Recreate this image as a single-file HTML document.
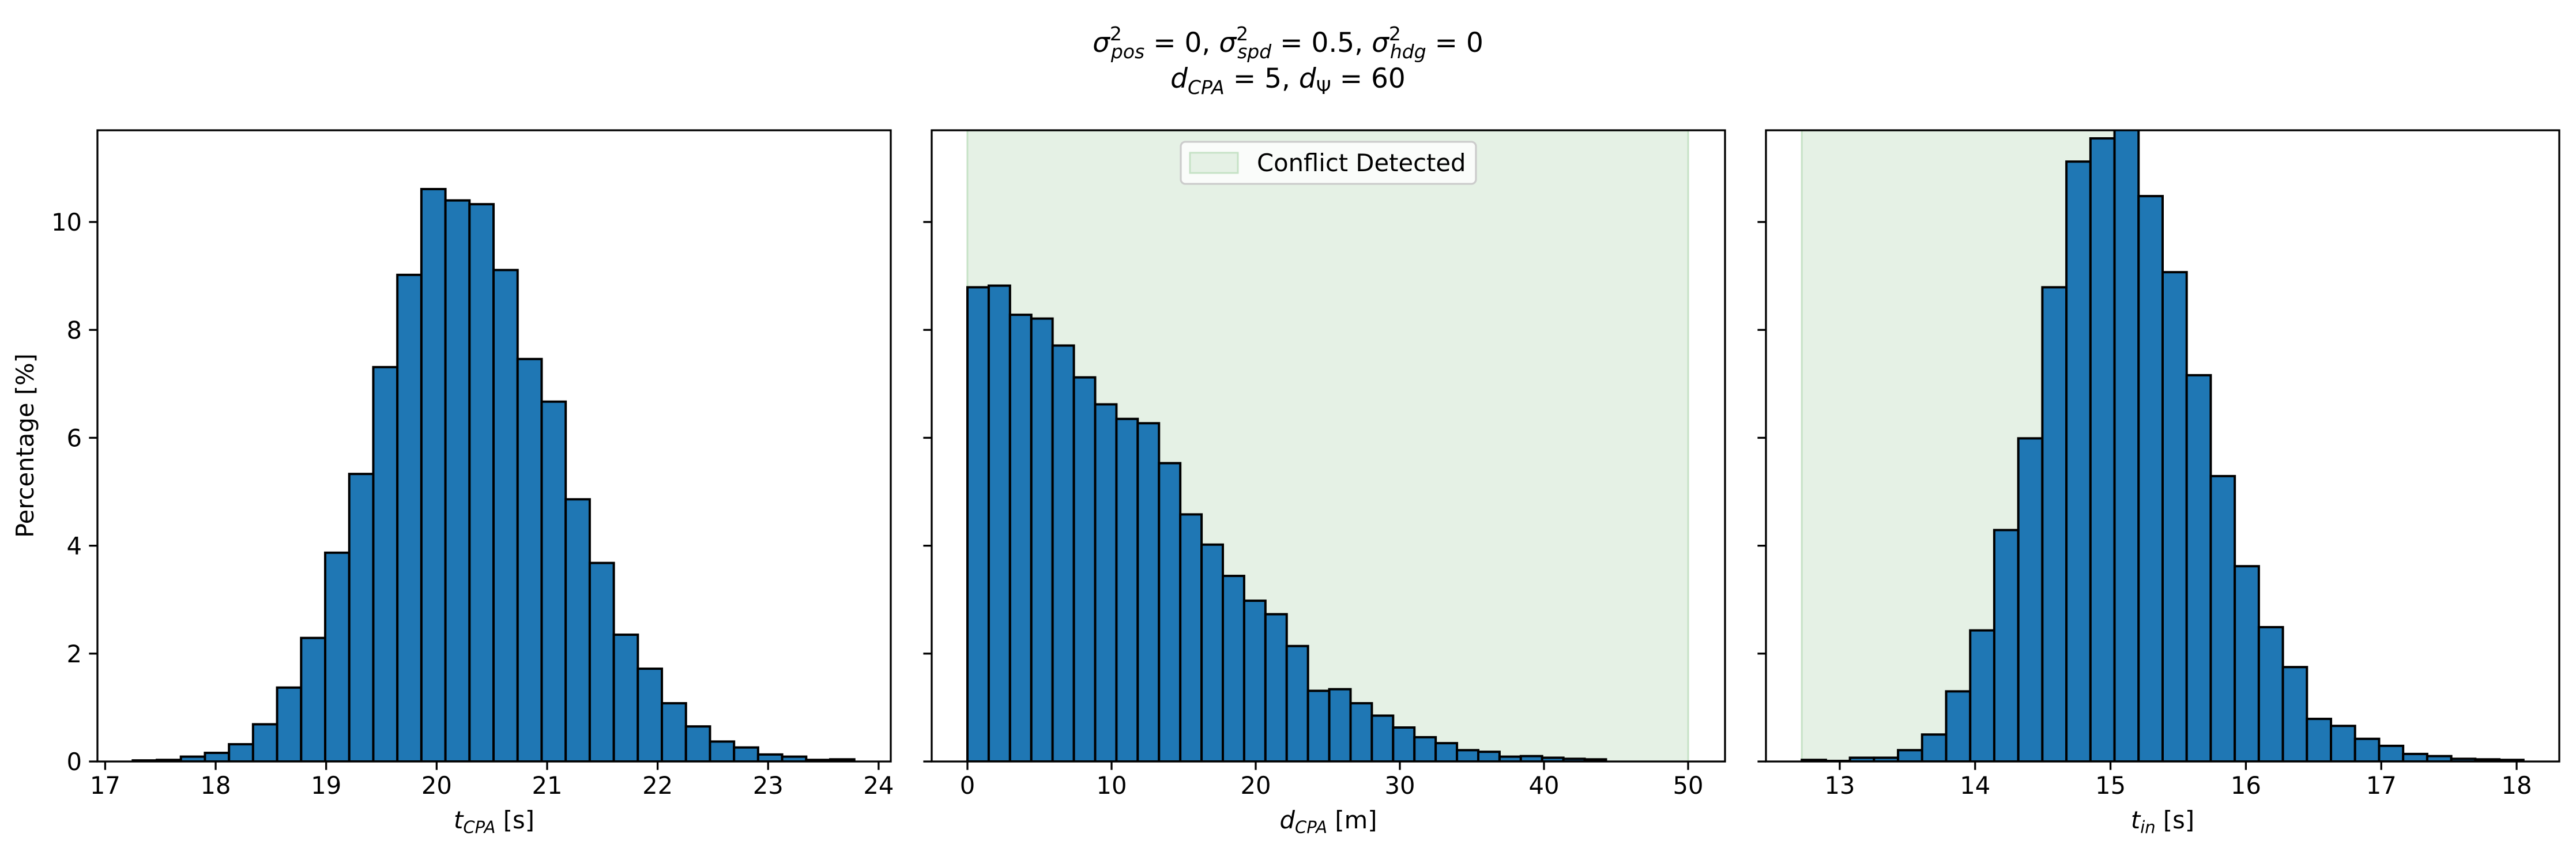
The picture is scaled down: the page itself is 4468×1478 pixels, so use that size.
<!DOCTYPE html>
<html><head><meta charset="utf-8"><style>
html,body{margin:0;padding:0;background:#fff}
svg{display:block;font-family:"DejaVu Sans","Liberation Sans",sans-serif}
</style></head><body>
<svg id="chart" width="4468" height="1478" viewBox="0 0 4468 1478" xmlns="http://www.w3.org/2000/svg">
<rect width="4468" height="1478" fill="#fff"/>
<text x="2234" y="90" text-anchor="middle" font-size="47"><tspan font-style="italic">σ</tspan><tspan font-size="33" dy="-20">2</tspan><tspan font-size="33" font-style="italic" dx="-19" dy="31">pos</tspan><tspan dy="-11"> = 0, </tspan><tspan font-style="italic">σ</tspan><tspan font-size="33" dy="-20">2</tspan><tspan font-size="33" font-style="italic" dx="-19" dy="31">spd</tspan><tspan dy="-11"> = 0.5, </tspan><tspan font-style="italic">σ</tspan><tspan font-size="33" dy="-20">2</tspan><tspan font-size="33" font-style="italic" dx="-19" dy="31">hdg</tspan><tspan dy="-11"> = 0</tspan></text>
<text x="2234" y="152" text-anchor="middle" font-size="47"><tspan font-style="italic">d</tspan><tspan font-size="33" font-style="italic" dy="11">CPA</tspan><tspan dy="-11"> = 5, </tspan><tspan font-style="italic">d</tspan><tspan font-size="33" dy="11">Ψ</tspan><tspan dy="-11"> = 60</tspan></text>
<g id="plots"></g>
</svg>
<script>
const tcpaValues=[0.02,0.03,0.09,0.16,0.32,0.69,1.37,2.29,3.87,5.33,7.31,9.02,10.61,10.40,10.33,9.11,7.46,6.67,4.86,3.68,2.35,1.72,1.08,0.65,0.37,0.26,0.13,0.09,0.03,0.04];
const tcpaRange=[17.25,23.78];
const dcpaValues=[8.79,8.82,8.28,8.21,7.71,7.12,6.62,6.35,6.27,5.53,4.58,4.02,3.44,2.98,2.73,2.14,1.31,1.34,1.08,0.85,0.63,0.45,0.34,0.21,0.18,0.09,0.10,0.07,0.05,0.04];
const dcpaRange=[0,44.3];
const tinValues=[0.03,0.01,0.07,0.07,0.21,0.50,1.30,2.43,4.29,5.99,8.79,11.12,11.55,11.75,10.48,9.07,7.16,5.29,3.62,2.49,1.75,0.79,0.66,0.42,0.29,0.14,0.10,0.05,0.04,0.03];
const tinRange=[12.72,18.05];
const tcpaTicks=[17,18,19,20,21,22,23,24];
const dcpaTicks=[0,10,20,30,40,50];
const tinTicks=[13,14,15,16,17,18];
const yTicks=[0,2,4,6,8,10];
const dcpaConflict=[0,50];
const tinConflict=[12.72,15.03];

const NS="http://www.w3.org/2000/svg";
const root=document.getElementById('plots');
const TOP=226,BOT=1321,YMAX=11.7;
function el(tag,attrs,parent){const e=document.createElementNS(NS,tag);for(const k in attrs)e.setAttribute(k,attrs[k]);(parent||root).appendChild(e);return e;}
function yS(v){return BOT-(BOT-TOP)*v/YMAX;}

function panel(id,L,R,xmin,xmax,vals,range,ticks,showY,span,label){
  const g=el('g',{});
  
  
  const xS=v=>L+(R-L)*(v-xmin)/(xmax-xmin);
  const clip=el('clipPath',{id:'clip-'+id},g);
  el('rect',{x:L,y:TOP,width:R-L,height:BOT-TOP},clip);
  const inner=el('g',{'clip-path':'url(#clip-'+id+')'},g);
  if(span){
    const s=el('rect',{x:xS(span[0]),y:TOP,width:xS(span[1])-xS(span[0]),height:BOT-TOP,fill:'#e5f1e5',stroke:'#c6e2c6','stroke-width':3},inner);
    
    
  }
  const n=vals.length,w=(range[1]-range[0])/n;
  vals.forEach((v,i)=>{
    const x0=xS(range[0]+i*w),x1=xS(range[0]+(i+1)*w);
    const b=el('rect',{x:x0,y:yS(v),width:x1-x0,height:BOT-yS(v),fill:'#1f77b4',stroke:'#000','stroke-width':4},inner);
    
    
  });
  const f=el('rect',{x:L,y:TOP,width:R-L,height:BOT-TOP,fill:'none',stroke:'#000','stroke-width':3.3},g);
  
  
  ticks.forEach(t=>{
    const x=xS(t);
    el('line',{x1:x,x2:x,y1:BOT,y2:BOT+14.6,stroke:'#000','stroke-width':3.3},g);
    const tl=el('text',{x:x,y:BOT+56,'text-anchor':'middle','font-size':41.7},g);
    tl.textContent=t;
    
    
  });
  yTicks.forEach(t=>{
    const y=yS(t);
    el('line',{x1:L,x2:L-14.6,y1:y,y2:y,stroke:'#000','stroke-width':3.3},g);
    if(showY){
      const tl=el('text',{x:L-27,y:y+15,'text-anchor':'end','font-size':41.7},g);
      tl.textContent=t;
      
      
    }
  });
  const xl=el('text',{x:(L+R)/2,y:1437,'text-anchor':'middle','font-size':41.7},g);
  
  
  xl.innerHTML='<tspan font-style="italic">'+label[0]+'</tspan><tspan font-style="italic" font-size="29" dy="8">'+label[1]+'</tspan><tspan dy="-8"> '+label[2]+'</tspan>';
  return g;
}
panel('tcpa',169,1545,16.93,24.11,tcpaValues,tcpaRange,tcpaTicks,true,null,['t','CPA','[s]']);
panel('dcpa',1616,2992,-2.48,52.56,dcpaValues,dcpaRange,dcpaTicks,false,dcpaConflict,['d','CPA','[m]']);
panel('tin',3063,4439,12.455,18.315,tinValues,tinRange,tinTicks,false,tinConflict,['t','in','[s]']);

const yl=el('text',{x:0,y:0,'text-anchor':'middle','font-size':41.7,transform:'translate(58,773) rotate(-90)'});
yl.textContent='Percentage [%]';



const lg=el('g',{});


el('rect',{x:2048,y:246,width:512,height:73,rx:8,fill:'#fff','fill-opacity':0.8,stroke:'#cccccc','stroke-width':3.3},lg);
el('rect',{x:2064,y:265,width:83,height:35,fill:'#e5f1e5',stroke:'#c6e2c6','stroke-width':3},lg);
const lt=el('text',{x:2180,y:297,'font-size':41.7},lg);
lt.textContent='Conflict Detected';


</script>
</body></html>
